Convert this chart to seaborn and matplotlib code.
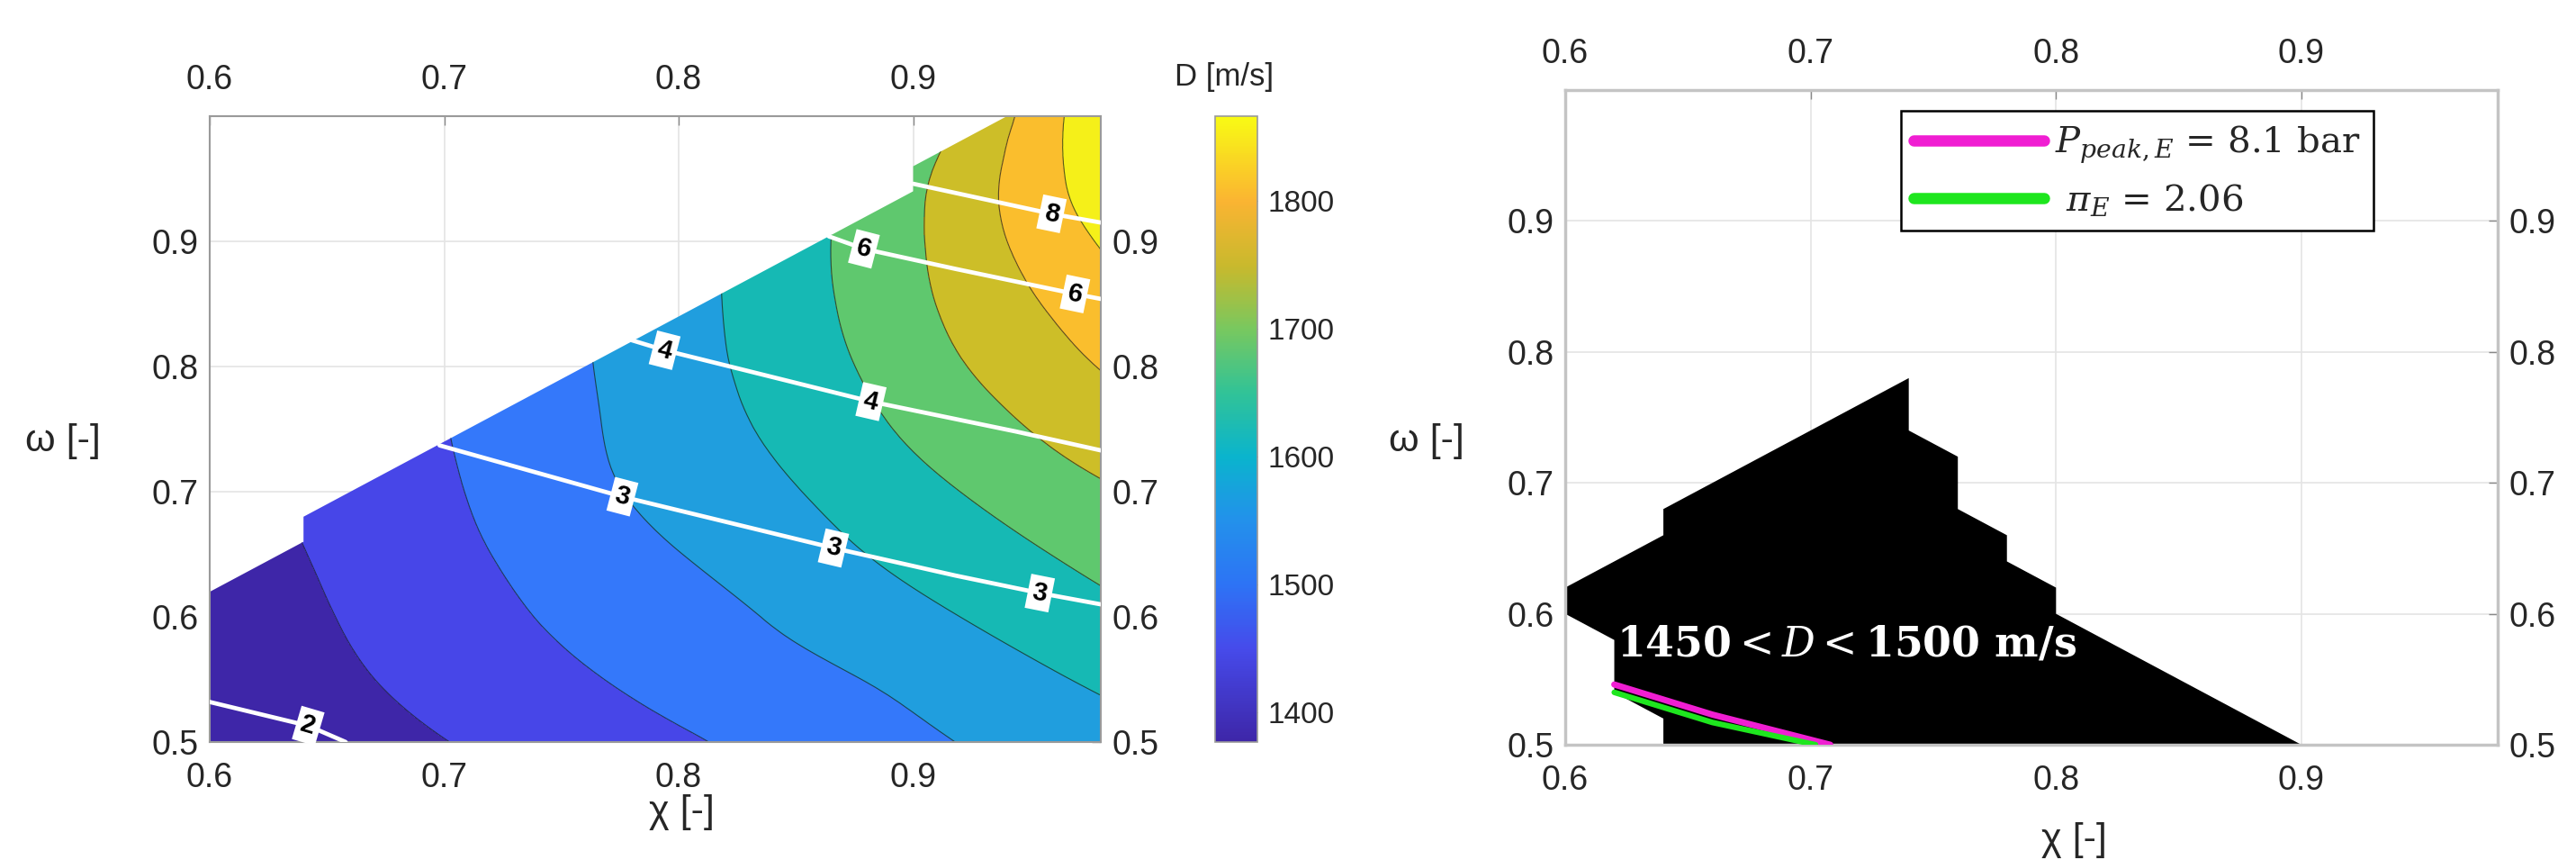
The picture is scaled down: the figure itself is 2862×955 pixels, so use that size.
import numpy as np
import matplotlib
matplotlib.use('Agg')
import matplotlib.pyplot as plt
import seaborn as sns
from matplotlib.colors import LinearSegmentedColormap, Normalize
from matplotlib.patches import Polygon
from matplotlib.lines import Line2D
from matplotlib.cm import ScalarMappable
from matplotlib.tri import Triangulation, UniformTriRefiner, CubicTriInterpolator

# %% data
chi_nodes = [0.60, 0.64, 0.68, 0.72, 0.76, 0.80, 0.84, 0.88, 0.92, 0.96, 1.00]
omega_nodes = [0.50, 0.55, 0.60, 0.65, 0.70, 0.75, 0.80, 0.85, 0.90, 0.95, 1.00]

# D [m/s] along each omega row (one value per chi node)
D_w050 = [1404, 1422, 1440, 1458, 1476, 1494, 1513, 1532, 1551, 1571, 1590]
D_w055 = [1412, 1434, 1455, 1476, 1496, 1515, 1533, 1551, 1573, 1596, 1618]
D_w060 = [1419, 1442, 1466, 1490, 1511, 1531, 1553, 1577, 1600, 1624, 1648]
D_w065 = [1425, 1449, 1475, 1500, 1524, 1549, 1573, 1600, 1625, 1651, 1676]
D_w070 = [1430, 1456, 1481, 1508, 1538, 1566, 1591, 1621, 1650, 1680, 1706]
D_w075 = [1434, 1460, 1485, 1513, 1544, 1576, 1606, 1640, 1675, 1709, 1738]
D_w080 = [1437, 1462, 1488, 1516, 1547, 1581, 1616, 1655, 1697, 1734, 1770]
D_w085 = [1438, 1464, 1488, 1516, 1548, 1583, 1621, 1665, 1712, 1756, 1800]
D_w090 = [1437, 1462, 1486, 1515, 1546, 1582, 1622, 1668, 1721, 1778, 1826]
D_w095 = [1435, 1460, 1484, 1513, 1543, 1578, 1616, 1665, 1720, 1792, 1846]
D_w100 = [1432, 1457, 1481, 1510, 1540, 1573, 1608, 1655, 1700, 1790, 1862]

d_levels = [1450, 1500, 1550, 1600, 1650, 1700, 1750, 1800]
cbar_min, cbar_max = 1377, 1866
cbar_ticks = [1400, 1500, 1600, 1700, 1800]

# feasible region edge (left panel)
valid_chi = [0.60, 0.98, 0.98, 0.94, 0.90, 0.90, 0.64, 0.64, 0.60]
valid_omega = [0.50, 0.50, 1.00, 1.00, 0.96, 0.94, 0.68, 0.66, 0.62]

# white iso-lines with their label values
p2_chi, p2_omega = [0.600, 0.642, 0.658], [0.532, 0.513, 0.500]
p3_chi, p3_omega = [0.698, 0.776, 0.866, 0.918, 0.954, 0.980], [0.737, 0.696, 0.655, 0.633, 0.619, 0.610]
p4_chi, p4_omega = [0.780, 0.794, 0.882, 0.944, 0.980], [0.821, 0.813, 0.772, 0.748, 0.733]
p6_chi, p6_omega = [0.864, 0.879, 0.918, 0.969, 0.980], [0.904, 0.894, 0.878, 0.858, 0.854]
p8_chi, p8_omega = [0.900, 0.959, 0.980], [0.946, 0.922, 0.915]

# right panel: region 1450 < D < 1500
region_chi = [0.74, 0.64, 0.64, 0.60, 0.60, 0.62, 0.62, 0.64, 0.64, 0.90,
              0.80, 0.80, 0.78, 0.78, 0.76, 0.76, 0.74]
region_omega = [0.78, 0.68, 0.66, 0.62, 0.60, 0.58, 0.54, 0.52, 0.50, 0.50,
                0.60, 0.62, 0.64, 0.66, 0.68, 0.72, 0.74]
ppeak_chi, ppeak_omega = [0.620, 0.660, 0.708], [0.546, 0.523, 0.500]
pi_chi, pi_omega = [0.620, 0.660, 0.702], [0.540, 0.517, 0.500]

x_ticks = [0.6, 0.7, 0.8, 0.9]
y_ticks = [0.5, 0.6, 0.7, 0.8, 0.9]

# %% style
sns.set_style('white')
plt.rcParams['font.family'] = ['Liberation Sans', 'DejaVu Sans']
plt.rcParams['mathtext.fontset'] = 'dejavuserif'

parula = LinearSegmentedColormap.from_list('parula', [
    (0.000, (62/255, 38/255, 168/255)),
    (0.149, (70/255, 75/255, 235/255)),
    (0.250, (45/255, 115/255, 245/255)),
    (0.354, (35/255, 145/255, 235/255)),
    (0.456, (10/255, 180/255, 205/255)),
    (0.560, (50/255, 195/255, 150/255)),
    (0.660, (120/255, 200/255, 95/255)),
    (0.760, (200/255, 185/255, 45/255)),
    (0.865, (250/255, 180/255, 50/255)),
    (1.000, (249/255, 250/255, 20/255)),
])
band_colors = ['#3e26a8', '#4746e8', '#3478fa', '#209ede', '#16b9b4',
               '#5fc86e', '#cdbe28', '#fabe2d', '#f5f019']

W, H = 2862, 955
fig = plt.figure(figsize=(W / 100, H / 100), dpi=100)


def px_axes(x0, y0, x1, y1):
    return fig.add_axes([x0 / W, 1 - y1 / H, (x1 - x0) / W, (y1 - y0) / H])


ax = px_axes(233, 129, 1223, 824)
cax = px_axes(1350, 129, 1397, 824)
ax2 = px_axes(1739, 100, 2775, 827)

for a in (ax, ax2):
    a.set_xlim(0.6, 0.98)
    a.set_ylim(0.5, 1.0)
    a.set_xticks(x_ticks)
    a.set_xticklabels([f'{t:.1f}' for t in x_ticks])
    a.set_yticks(y_ticks)
    a.set_yticklabels([f'{t:.1f}' for t in y_ticks])
    a.set_axisbelow(True)
    a.grid(True, color='#e4e4e4', lw=1.2)
    a.tick_params(top=True, right=True, labeltop=True, labelright=True,
                  direction='in', length=7, width=1, color='#888888',
                  labelsize=27, labelcolor='#262626')

ax.tick_params(axis='x', pad=16)
ax.tick_params(axis='y', pad=9)
ax2.tick_params(axis='x', pad=16)
ax2.tick_params(axis='y', pad=9)
for s in ax.spines.values():
    s.set_color('#9a9a9a')
    s.set_linewidth(1.5)
for s in ax2.spines.values():
    s.set_color('#c4c4c4')
    s.set_linewidth(2.5)

# %% left panel: filled contours of D
chi_grid, omega_grid = np.meshgrid(chi_nodes, omega_nodes)
D_grid = np.array([D_w050, D_w055, D_w060, D_w065, D_w070, D_w075,
                   D_w080, D_w085, D_w090, D_w095, D_w100])
tri = Triangulation(chi_grid.ravel(), omega_grid.ravel())
tri_fine, D_fine = UniformTriRefiner(tri).refine_field(
    D_grid.ravel(), triinterpolator=CubicTriInterpolator(tri, D_grid.ravel(), kind='min_E'), subdiv=3)

fill_levels = [1300] + d_levels + [1950]
cs = ax.tricontourf(tri_fine, D_fine, levels=fill_levels, colors=band_colors, zorder=1)
cl = ax.tricontour(tri_fine, D_fine, levels=d_levels, colors='#1a1a1a',
                   linewidths=0.8, alpha=0.7, zorder=2)
clip = Polygon(np.column_stack([valid_chi, valid_omega]), closed=True, transform=ax.transData)
cs.set_clip_path(clip)
cl.set_clip_path(clip)


def label_angle(a, xs, ys, i):
    j0, j1 = max(i - 1, 0), min(i + 1, len(xs) - 1)
    p0 = a.transData.transform((xs[j0], ys[j0]))
    p1 = a.transData.transform((xs[j1], ys[j1]))
    return np.degrees(np.arctan2(p1[1] - p0[1], p1[0] - p0[0]))


iso_lines = [(p2_chi, p2_omega, '2', [1]), (p3_chi, p3_omega, '3', [1, 2, 4]),
             (p4_chi, p4_omega, '4', [1, 2]), (p6_chi, p6_omega, '6', [1, 3]),
             (p8_chi, p8_omega, '8', [1])]
for xs, ys, lab, idx in iso_lines:
    sns.lineplot(x=xs, y=ys, ax=ax, color='white', lw=3.4, sort=False,
                 estimator=None, legend=False, zorder=3)
    for i in idx:
        ax.text(xs[i], ys[i], lab, rotation=label_angle(ax, xs, ys, i),
                rotation_mode='anchor', ha='center', va='center',
                fontsize=21, fontweight='bold', color='black', zorder=5,
                bbox=dict(boxstyle='square,pad=0.18', fc='white', ec='none'))

# colorbar
sm = ScalarMappable(norm=Normalize(cbar_min, cbar_max), cmap=parula)
cb = fig.colorbar(sm, cax=cax, ticks=cbar_ticks)
cb.outline.set_edgecolor('#9a9a9a')
cb.outline.set_linewidth(1.2)
cax.tick_params(direction='in', length=6, color='#888888', labelsize=24,
                labelcolor='#262626', pad=8)
fig.text(1360 / W, 1 - 85 / H, 'D [m/s]', fontsize=25, color='#262626',
         ha='center', va='center')

fig.text(70 / W, 1 - 490 / H, 'ω [-]', fontsize=31, color='#262626', ha='center', va='center')
fig.text(757 / W, 1 - 902 / H, 'χ [-]', fontsize=31, color='#262626', ha='center', va='center')

# %% right panel
ax2.fill(region_chi, region_omega, color='black', zorder=2, lw=0)
sns.lineplot(x=ppeak_chi, y=ppeak_omega, ax=ax2, color='#f01ed2', lw=5,
             sort=False, estimator=None, legend=False, zorder=3)
sns.lineplot(x=pi_chi, y=pi_omega, ax=ax2, color='#1ee61e', lw=4.5,
             sort=False, estimator=None, legend=False, zorder=4)
ax2.text(0.621, 0.577, r'$\mathbf{1450} < \mathit{D} < \mathbf{1500}$ m/s',
         color='white', fontsize=33, fontweight='bold', family='DejaVu Serif',
         ha='left', va='center', zorder=6)

handles = [Line2D([], [], color='#f01ed2', lw=9), Line2D([], [], color='#1ee61e', lw=9)]
leg = ax2.legend(handles, [r'$P_{peak,E}$ = 8.1 bar', r' $\pi_E$ = 2.06'],
                 loc='upper left', bbox_to_anchor=(0.36, 0.968), borderaxespad=0,
                 fancybox=False, framealpha=1, edgecolor='black', handlelength=3.6,
                 handletextpad=0.3, labelspacing=0.45, borderpad=0.35,
                 prop={'family': 'DejaVu Serif', 'size': 29})
leg.get_frame().set_linewidth(1.8)

fig.text(1585 / W, 1 - 490 / H, 'ω [-]', fontsize=31, color='#262626', ha='center', va='center')
fig.text(2304 / W, 1 - 933 / H, 'χ [-]', fontsize=31, color='#262626', ha='center', va='center')

fig.savefig('out.png', dpi=100, facecolor='white')
